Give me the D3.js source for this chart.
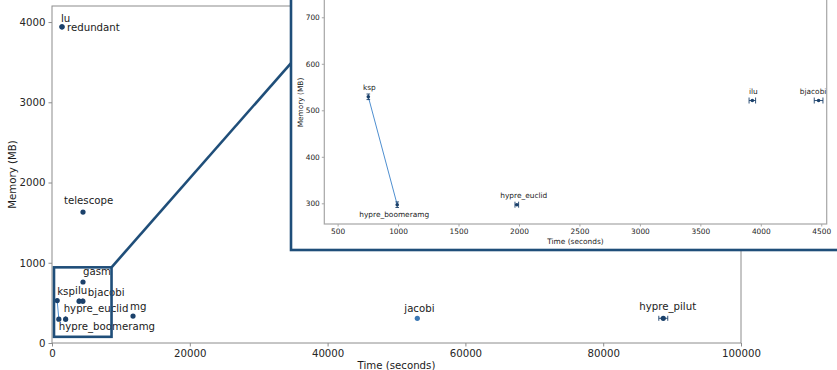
<!DOCTYPE html>
<html>
<head>
<meta charset="utf-8">
<script src="https://cdn.jsdelivr.net/npm/d3@7"></script>
<style>
  body { margin: 0; background: #fff; }
  svg { display: block; font-family: "DejaVu Sans", sans-serif; }
  .tick text { fill: #262626; }
</style>
</head>
<body>
<div id="chart"></div>
<script>
// solver runs: name, time (s), memory (MB), error half-widths
const names = ['lu', 'redundant', 'telescope', 'gasm', 'ilu', 'bjacobi', 'ksp',
    'hypre_boomeramg', 'hypre_euclid', 'mg', 'jacobi', 'hypre_pilut']
const timeSec = [1450, 1450, 4500, 4500, 3930, 4478, 754, 993, 1982, 11760, 53020, 88720]
const memoryMB = [3940, 3940, 1632, 760, 521, 521, 529, 297, 297, 336, 308, 308]
const timeErr = [0, 0, 0, 0, 27, 36, 0, 0, 15, 0, 0, 650]
const memErr = [0, 0, 0, 0, 0, 0, 6, 6, 0, 0, 0, 0]

const linkedPair = ['ksp', 'hypre_boomeramg']
const insetNames = ['ksp', 'hypre_boomeramg', 'hypre_euclid', 'ilu', 'bjacobi']

const xTicksMain = [0, 20000, 40000, 60000, 80000, 100000]
const yTicksMain = [0, 1000, 2000, 3000, 4000]
const xTicksInset = [500, 1000, 1500, 2000, 2500, 3000, 3500, 4000, 4500]
const yTicksInset = [300, 400, 500, 600, 700]

// zoomed region shown in the inset
const zoomTime = [290, 8640]
const zoomMemory = [77, 943]
const connectorEnd = [34690, 3489]

// label placement (px from the point)
const mainLabelOffset = {
    lu: [-1, -5], redundant: [5, 4], telescope: [-19, -8], gasm: [0, -7],
    ilu: [-4, -7], bjacobi: [5, -5], ksp: [0, -6], hypre_boomeramg: [0, 11],
    hypre_euclid: [-2, -7], mg: [-3, -6.5], jacobi: [-13, -6], hypre_pilut: [-24, -8]
}
const insetLabelOffset = {
    ksp: [1, -7], hypre_boomeramg: [-3, 12], hypre_euclid: [7, -6.5],
    ilu: [1, -7], bjacobi: [-5.5, -7]
}

const navy = '#1b416b'
const frameBlue = '#1f4e79'
const lineBlue = '#4f8fd0'

const rows = names.map((n, i) => ({
    name: n, t: timeSec[i], m: memoryMB[i], te: timeErr[i], me: memErr[i]
}))

const svg = d3.select('#chart').append('svg')
    .attr('width', 837)
    .attr('height', 370)

svg.append('rect').attr('width', 837).attr('height', 370).attr('fill', '#fff')

// ---------- main axes ----------
const x = d3.scaleLinear().domain([0, 100000]).range([52, 741])
const y = d3.scaleLinear().domain([0, 4200]).range([343, 6])

const main = svg.append('g')

main.append('rect')
    .attr('x', x.range()[0]).attr('y', y.range()[1])
    .attr('width', x.range()[1] - x.range()[0])
    .attr('height', y.range()[0] - y.range()[1])
    .attr('fill', 'none')
    .attr('stroke', '#8c8c8c')
    .attr('stroke-width', 1)

main.append('g')
    .attr('transform', `translate(0,${y.range()[0]})`)
    .call(d3.axisBottom(x).tickValues(xTicksMain).tickFormat(d3.format('d')).tickSize(3.5).tickPadding(3))
main.append('g')
    .attr('transform', `translate(${x.range()[0]},0)`)
    .call(d3.axisLeft(y).tickValues(yTicksMain).tickFormat(d3.format('d')).tickSize(3.5).tickPadding(3))

main.selectAll('.domain').remove()
main.selectAll('.tick line').attr('stroke', '#8c8c8c')
main.selectAll('.tick text').style('font-size', '10.2px').style('font-family', 'DejaVu Sans')

main.append('text')
    .attr('x', (x.range()[0] + x.range()[1]) / 2)
    .attr('y', 369)
    .attr('text-anchor', 'middle')
    .style('font-size', '10.2px')
    .attr('fill', '#1a1a1a')
    .text('Time (seconds)')

main.append('text')
    .attr('transform', `translate(16,${(y.range()[0] + y.range()[1]) / 2}) rotate(-90)`)
    .attr('text-anchor', 'middle')
    .style('font-size', '10.2px')
    .attr('fill', '#1a1a1a')
    .text('Memory (MB)')

function drawPoints(g, xs, ys, data, r, labelOffset, anchor, fontSize, capSize) {
    const pair = data.filter(d => linkedPair.includes(d.name))
    g.append('line')
        .attr('x1', xs(pair[0].t)).attr('y1', ys(pair[0].m))
        .attr('x2', xs(pair[1].t)).attr('y2', ys(pair[1].m))
        .attr('stroke', lineBlue)
        .attr('stroke-width', 1)

    const bars = g.append('g').attr('stroke', navy).attr('stroke-width', 0.9)
    data.filter(d => d.te > 0).forEach(d => {
        const cy = ys(d.m)
        bars.append('line')
            .attr('x1', xs(d.t - d.te)).attr('x2', xs(d.t + d.te))
            .attr('y1', cy).attr('y2', cy)
        ;[d.t - d.te, d.t + d.te].forEach(v => {
            bars.append('line')
                .attr('x1', xs(v)).attr('x2', xs(v))
                .attr('y1', cy - capSize).attr('y2', cy + capSize)
        })
    })
    data.filter(d => d.me > 0).forEach(d => {
        const cx = xs(d.t)
        bars.append('line')
            .attr('x1', cx).attr('x2', cx)
            .attr('y1', ys(d.m - d.me)).attr('y2', ys(d.m + d.me))
        ;[d.m - d.me, d.m + d.me].forEach(v => {
            bars.append('line')
                .attr('x1', cx - capSize * 0.6).attr('x2', cx + capSize * 0.6)
                .attr('y1', ys(v)).attr('y2', ys(v))
        })
    })

    g.selectAll('circle.pt')
        .data(data)
        .enter().append('circle')
            .attr('class', 'pt')
            .attr('cx', d => xs(d.t))
            .attr('cy', d => ys(d.m))
            .attr('r', r)
            .attr('fill', d => d.name === 'jacobi' ? '#3b78b4' : navy)

    g.selectAll('text.lbl')
        .data(data)
        .enter().append('text')
            .attr('class', 'lbl')
            .attr('x', d => xs(d.t) + labelOffset[d.name][0])
            .attr('y', d => ys(d.m) + labelOffset[d.name][1])
            .attr('text-anchor', anchor)
            .style('font-size', fontSize)
            .attr('fill', '#1a1a1a')
            .text(d => d.name)
}

drawPoints(main.append('g'), x, y, rows, 2.6, mainLabelOffset, 'start', '10.2px', 2.5)

// zoom box and connector
main.append('rect')
    .attr('x', x(zoomTime[0]))
    .attr('y', y(zoomMemory[1]))
    .attr('width', x(zoomTime[1]) - x(zoomTime[0]))
    .attr('height', y(zoomMemory[0]) - y(zoomMemory[1]))
    .attr('fill', 'none')
    .attr('stroke', frameBlue)
    .attr('stroke-width', 2.6)

main.append('line')
    .attr('x1', x(zoomTime[1])).attr('y1', y(zoomMemory[1]))
    .attr('x2', x(connectorEnd[0])).attr('y2', y(connectorEnd[1]))
    .attr('stroke', frameBlue)
    .attr('stroke-width', 2.6)

// ---------- inset ----------
const inset = svg.append('g')

inset.append('rect')
    .attr('x', 291).attr('y', -20)
    .attr('width', 600).attr('height', 270)
    .attr('fill', '#fff')
    .attr('stroke', frameBlue)
    .attr('stroke-width', 2.6)

const xi = d3.scaleLinear().domain([390, 4545]).range([324.3, 826.7])
const yi = d3.scaleLinear().domain([255.5, 778]).range([224, -19])

inset.append('rect')
    .attr('x', xi.range()[0]).attr('y', yi.range()[1])
    .attr('width', xi.range()[1] - xi.range()[0])
    .attr('height', yi.range()[0] - yi.range()[1])
    .attr('fill', 'none')
    .attr('stroke', '#a6a6a6')
    .attr('stroke-width', 1.2)

inset.append('g')
    .attr('transform', `translate(0,${yi.range()[0]})`)
    .call(d3.axisBottom(xi).tickValues(xTicksInset).tickFormat(d3.format('d')).tickSize(2.5).tickPadding(2))
inset.append('g')
    .attr('transform', `translate(${xi.range()[0]},0)`)
    .call(d3.axisLeft(yi).tickValues(yTicksInset).tickFormat(d3.format('d')).tickSize(2.5).tickPadding(2))

inset.selectAll('.domain').remove()
inset.selectAll('.tick line').attr('stroke', '#a6a6a6')
inset.selectAll('.tick text').style('font-size', '7.4px').style('font-family', 'DejaVu Sans')

inset.append('text')
    .attr('x', (xi.range()[0] + xi.range()[1]) / 2)
    .attr('y', 243.5)
    .attr('text-anchor', 'middle')
    .style('font-size', '7.4px')
    .attr('fill', '#1a1a1a')
    .text('Time (seconds)')

inset.append('text')
    .attr('transform', `translate(303,${(yi.range()[0] + yi.range()[1]) / 2}) rotate(-90)`)
    .attr('text-anchor', 'middle')
    .style('font-size', '7.4px')
    .attr('fill', '#1a1a1a')
    .text('Memory (MB)')

drawPoints(inset.append('g'), xi, yi, rows.filter(d => insetNames.includes(d.name)),
    1.8, insetLabelOffset, 'middle', '7.4px', 3)
</script>
</body>
</html>
